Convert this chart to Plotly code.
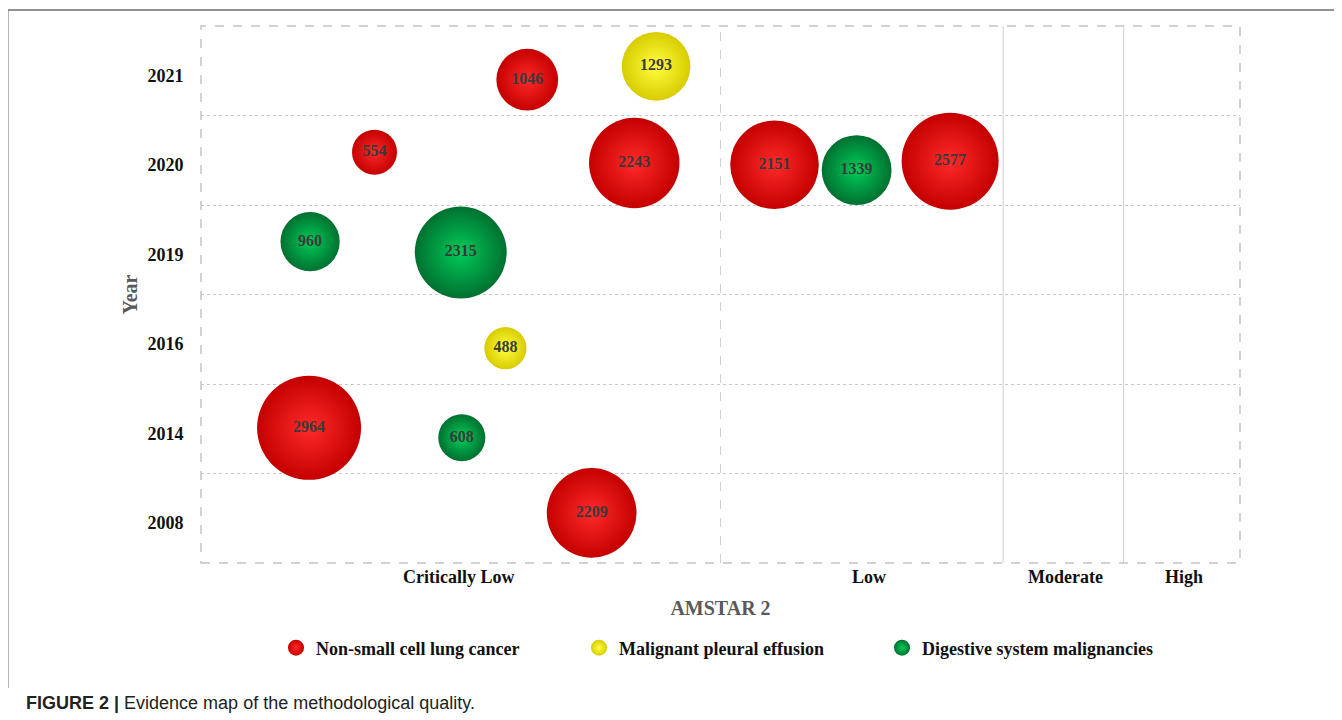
import plotly.graph_objects as go

# ---- data ----
quality_labels = ["Critically Low", "Low", "Moderate", "High"]
quality_bounds = [0, 50, 77.2, 88.8, 100]
quality_label_pos = [24.8, 64.3, 83.2, 94.6]
years = ["2008", "2014", "2016", "2019", "2020", "2021"]

groups = ["Non-small cell lung cancer", "Malignant pleural effusion", "Digestive system malignancies"]

nsclc_n = [1046, 554, 2243, 2151, 2577, 2964, 2209]
nsclc_score = [31.4, 16.7, 41.7, 55.2, 72.1, 10.4, 37.6]
nsclc_year = ["2021", "2020", "2020", "2020", "2020", "2014", "2008"]
nsclc_yoff = [0.40, 0.59, 0.47, 0.45, 0.49, 0.51, 0.56]

mpe_n = [1293, 488]
mpe_score = [43.8, 29.3]
mpe_year = ["2021", "2016"]
mpe_yoff = [0.55, 0.40]

dsm_n = [1339, 960, 2315, 608]
dsm_score = [63.1, 10.5, 25.0, 25.1]
dsm_year = ["2020", "2019", "2019", "2014"]
dsm_yoff = [0.39, 0.59, 0.47, 0.40]

# ---- styles ----
# plotly radial gradient: gradient colour at the centre, marker colour at the rim
colors = {"center": ["#ff2a2a", "#ffff40", "#00cc58"],
          "edge": ["#c40000", "#d8cc00", "#007030"]}
serif = "Liberation Serif"

OFF = 8  # page body margin
W, H = 1342 - OFF, 720 - OFF
L, R, T, B = 201 - OFF, 1240 - OFF, 26 - OFF, 563 - OFF


def px_to_paper_x(px):
    return (px - OFF - L) / (R - L)


def px_to_paper_y(py):
    return (B - (py - OFF)) / (B - T)


fig = go.Figure()

series = [(nsclc_n, nsclc_score, nsclc_year, nsclc_yoff),
          (mpe_n, mpe_score, mpe_year, mpe_yoff),
          (dsm_n, dsm_score, dsm_year, dsm_yoff)]

for i, (n, sc, yr, off) in enumerate(series):
    yv = [years.index(y) + o for y, o in zip(yr, off)]
    fig.add_trace(go.Scatter(
        x=sc, y=yv, mode="markers+text", name=groups[i],
        text=[str(v) for v in n], textposition="middle center",
        textfont=dict(family=serif, size=16, color="#3a3a3a", weight="bold"),
        marker=dict(size=n, sizemode="area", sizeref=0.548, opacity=1,
                    color=colors["edge"][i],
                    gradient=dict(type="radial", color=colors["center"][i]),
                    line=dict(width=0)),
        cliponaxis=False,
    ))

shapes = []
# vertical category boundaries
for j, b in enumerate(quality_bounds[1:-1]):
    shapes.append(dict(type="line", xref="x", yref="paper", x0=b, x1=b, y0=0, y1=1,
                       layer="below",
                       line=dict(color="#d0d0d0", width=1, dash="dash" if j == 0 else "solid")))
# plot border (dashed)
shapes.append(dict(type="rect", xref="paper", yref="paper", x0=0, x1=1, y0=0, y1=1,
                   layer="below", line=dict(color="#c4c4c4", width=1.5, dash="dash")))
# figure frame: top line + left line
shapes.append(dict(type="line", xref="paper", yref="paper",
                   x0=px_to_paper_x(8), x1=px_to_paper_x(1342), y0=px_to_paper_y(10), y1=px_to_paper_y(10),
                   line=dict(color="#6e6e6e", width=1.5)))
shapes.append(dict(type="line", xref="paper", yref="paper",
                   x0=px_to_paper_x(8), x1=px_to_paper_x(8), y0=px_to_paper_y(10), y1=px_to_paper_y(688),
                   line=dict(color="#6e6e6e", width=1)))

fig.update_layout(
    width=W, height=H,
    margin=dict(l=L, r=W - R, t=T, b=H - B),
    paper_bgcolor="white", plot_bgcolor="white",
    shapes=shapes,
    showlegend=True,
    legend=dict(orientation="h", xref="container", yref="container",
                x=(276 - OFF) / W, y=1 - (648 - OFF) / H, xanchor="left", yanchor="middle",
                entrywidth=258, entrywidthmode="pixels", itemsizing="trace",
                font=dict(family=serif, size=18, color="#111111", weight="bold")),
    xaxis=dict(range=[0, 100], showgrid=False, zeroline=False, showline=False,
               tickmode="array", tickvals=quality_label_pos, ticktext=quality_labels,
               ticks="", ticklabelstandoff=1,
               tickfont=dict(family=serif, size=18, color="#111111", weight="bold"),
               title=dict(text="AMSTAR 2", standoff=14,
                          font=dict(family=serif, size=20, color="#595959", weight="bold"))),
    yaxis=dict(range=[0, 6], showgrid=False, zeroline=False, showline=False,
               tickmode="array", tickvals=[i + 0.45 for i in range(len(years))], ticktext=years,
               ticks="outside", ticklen=13, tickcolor="rgba(0,0,0,0)",
               tickfont=dict(family=serif, size=18, color="#111111", weight="bold"),
               minor=dict(tickmode="array", tickvals=[1, 2, 3, 4, 5], showgrid=True,
                          gridcolor="#c8c8c8", griddash="dot", gridwidth=1, ticks=""),
               title=dict(text="Year", standoff=4,
                          font=dict(family=serif, size=20, color="#595959", weight="bold"))),
    annotations=[dict(xref="paper", yref="paper",
                      x=px_to_paper_x(24), y=px_to_paper_y(703),
                      xanchor="left", yanchor="middle", showarrow=False,
                      text="<b>FIGURE 2 |</b> Evidence map of the methodological quality.",
                      font=dict(family="Liberation Sans", size=18, color="#222222"))],
)

fig.write_html("out.html")
